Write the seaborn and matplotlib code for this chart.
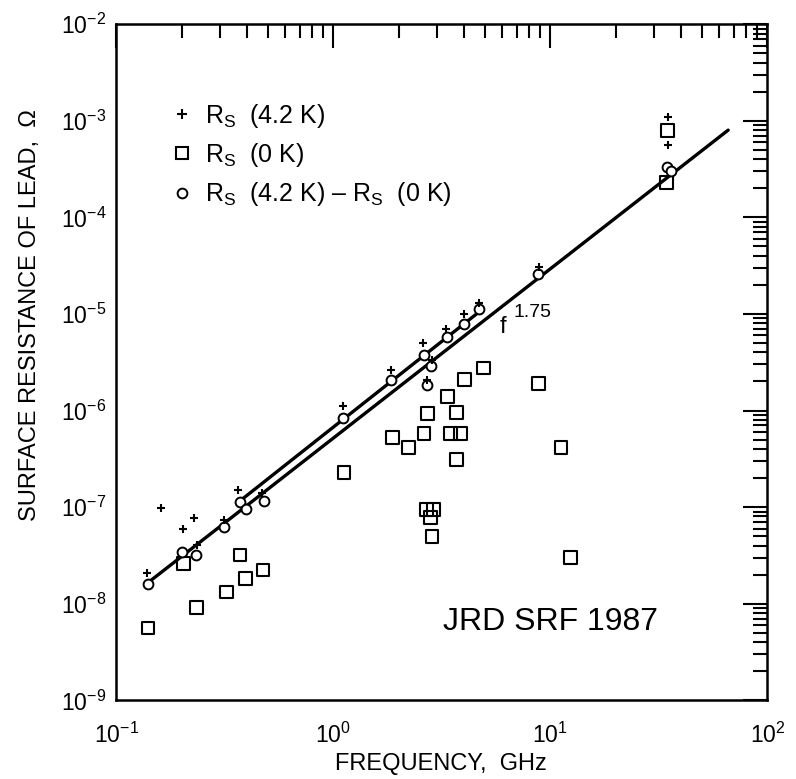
import numpy as np
import pandas as pd
import matplotlib
matplotlib.use("Agg")
import matplotlib.pyplot as plt
import seaborn as sns
from matplotlib.lines import Line2D
from matplotlib.ticker import LogLocator, NullFormatter

# ---------------- data ----------------
# R_s (4.2 K)  -> plus markers
f_42 = [0.139, 0.161, 0.204, 0.229, 0.236, 0.315, 0.365, 0.47, 1.11, 1.85,
        2.6, 2.71, 2.86, 3.32, 4.02, 4.71, 8.9, 35.0, 34.7]
r_42 = [2.07e-8, 9.8e-8, 5.9e-8, 7.7e-8, 4.05e-8, 7.3e-8, 1.5e-7, 1.4e-7, 1.11e-6, 2.6e-6,
        5.0e-6, 2.07e-6, 3.3e-6, 6.97e-6, 1.0e-5, 1.3e-5, 3.05e-5, 1.09e-3, 5.6e-4]

# R_s (0 K)  -> square markers
f_0 = [0.14, 0.204, 0.234, 0.321, 0.372, 0.393, 0.475, 1.12, 1.87, 2.22,
       2.62, 2.71, 3.46, 3.85, 3.69, 3.69, 3.35, 4.02, 4.91, 8.8,
       11.2, 2.68, 2.89, 2.80, 2.85, 12.4, 34.6, 34.4]
r_0 = [5.6e-9, 2.63e-8, 9.2e-9, 1.32e-8, 3.2e-8, 1.84e-8, 2.23e-8, 2.3e-7, 5.3e-7, 4.18e-7,
       5.8e-7, 9.4e-7, 5.8e-7, 5.8e-7, 9.6e-7, 3.14e-7, 1.41e-6, 2.11e-6, 2.75e-6, 1.92e-6,
       4.18e-7, 9.4e-8, 9.4e-8, 7.8e-8, 5.0e-8, 3.0e-8, 8.0e-4, 2.3e-4]

# R_s (4.2 K) - R_s (0 K)  -> circle markers
f_d = [0.14, 0.2, 0.234, 0.315, 0.372, 0.397, 0.48, 1.11, 1.85, 2.62,
       2.83, 2.71, 3.35, 4.02, 4.71, 8.8, 34.5, 36.0]
r_d = [1.6e-8, 3.4e-8, 3.2e-8, 6.2e-8, 1.13e-7, 9.5e-8, 1.17e-7, 8.3e-7, 2.06e-6, 3.8e-6,
       2.9e-6, 1.83e-6, 5.75e-6, 7.85e-6, 1.12e-5, 2.58e-5, 3.3e-4, 3.0e-4]

# f^1.75 lines (end points)
line_a_f = [0.14, 66.0]
line_a_r = [1.65e-8, 8.0e-4]
line_b_f = [0.37, 4.7]
line_b_r = [1.15e-7, 1.05e-5]

x_ticks = [0.1, 1, 10, 100]
y_ticks = [1e-9, 1e-8, 1e-7, 1e-6, 1e-5, 1e-4, 1e-3, 1e-2]

# ---------------- style ----------------
sns.set_theme(style="white")
plt.rcParams["font.family"] = ["Liberation Sans", "DejaVu Sans"]
plt.rcParams["mathtext.fontset"] = "custom"
plt.rcParams["mathtext.rm"] = "Liberation Sans"
plt.rcParams["mathtext.it"] = "Liberation Sans"
plt.rcParams["mathtext.bf"] = "Liberation Sans:bold"
for k in ["text.color", "axes.labelcolor", "xtick.color", "ytick.color", "axes.edgecolor"]:
    plt.rcParams[k] = "black"

fig = plt.figure(figsize=(7.96, 7.79), dpi=100)
ax = fig.add_axes([0.146, 0.101, 0.818, 0.868])

df_a = pd.DataFrame({"f": line_a_f, "r": line_a_r})
df_b = pd.DataFrame({"f": line_b_f, "r": line_b_r})
sns.lineplot(data=df_a, x="f", y="r", ax=ax, color="black", lw=2.4, zorder=2)
sns.lineplot(data=df_b, x="f", y="r", ax=ax, color="black", lw=2.4, zorder=2)

df42 = pd.DataFrame({"f": f_42, "r": r_42})
df0 = pd.DataFrame({"f": f_0, "r": r_0})
dfd = pd.DataFrame({"f": f_d, "r": r_d})

sns.scatterplot(data=df0, x="f", y="r", ax=ax, marker="s", s=85,
                facecolor="none", edgecolor="black", linewidth=1.5, zorder=3)
sns.scatterplot(data=dfd, x="f", y="r", ax=ax, marker="o", s=50,
                facecolor="white", edgecolor="black", linewidth=1.4, zorder=4)
sns.scatterplot(data=df42, x="f", y="r", ax=ax, marker="+", s=35,
                color="black", linewidth=1.5, zorder=5)

ax.set_xscale("log")
ax.set_yscale("log")
ax.set_xlim(0.1, 100)
ax.set_ylim(1e-9, 1e-2)

ax.xaxis.set_minor_locator(LogLocator(base=10, subs=np.arange(2, 10), numticks=20))
ax.yaxis.set_minor_locator(LogLocator(base=10, subs=np.arange(2, 10), numticks=20))
ax.xaxis.set_minor_formatter(NullFormatter())
ax.yaxis.set_minor_formatter(NullFormatter())
ax.set_xticks(x_ticks)
ax.set_yticks(y_ticks)

ax.tick_params(which="both", direction="in", top=True, right=True, color="black",
               labelsize=16.5, width=1.5)
ax.tick_params(which="major", length=17)
ax.tick_params(which="minor", length=10)
ax.tick_params(axis="x", which="major", pad=16)
ax.tick_params(axis="y", which="major", pad=7)
for sp in ax.spines.values():
    sp.set_color("black")
    sp.set_linewidth(1.8)

ax.set_xlabel("")
ax.set_ylabel("")
fig.text(441 / 796, 1 - 764 / 779, "FREQUENCY,  GHz", fontsize=17,
         ha="center", va="center")
fig.text(30 / 796, 1 - 315 / 779, "SURFACE RESISTANCE OF LEAD,  Ω", rotation=90,
         fontsize=17, ha="center", va="center")

# annotations
ax.text(6.07, 7.3e-6, "f", fontsize=17, ha="center", va="center")
ax.text(8.26, 1.04e-5, "1.75", fontsize=14, ha="center", va="center")
ax.text(10, 6.4e-9, "JRD SRF 1987", fontsize=23, ha="center", va="center")

handles = [
    Line2D([], [], marker="+", ls="none", color="black", ms=7, mew=1.5),
    Line2D([], [], marker="s", ls="none", mfc="none", mec="black", ms=9, mew=1.5),
    Line2D([], [], marker="o", ls="none", mfc="white", mec="black", ms=7, mew=1.4),
]
labels = [r"R$_\mathregular{S}$  (4.2 K)", r"R$_\mathregular{S}$  (0 K)",
          r"R$_\mathregular{S}$  (4.2 K) – R$_\mathregular{S}$  (0 K)"]
ax.legend(handles, labels, loc="upper left", bbox_to_anchor=(0.082, 0.885),
          frameon=False, fontsize=18, handlelength=1.0, handletextpad=0.4,
          labelspacing=0.45, borderaxespad=0.0, borderpad=0.0)

fig.savefig("out.png", dpi=100)
